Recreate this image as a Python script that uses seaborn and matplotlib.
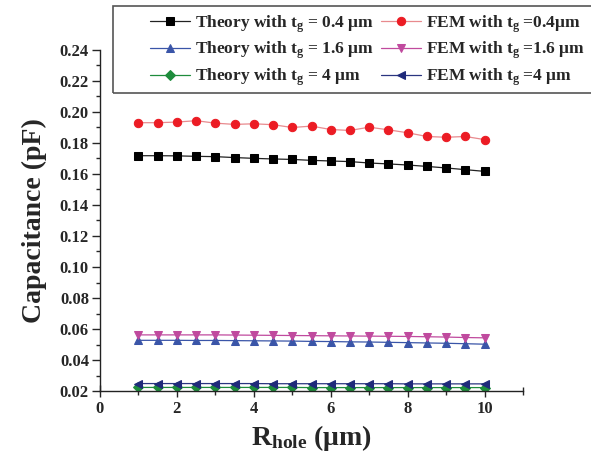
import numpy as np
import pandas as pd
import matplotlib
matplotlib.use("Agg")
import matplotlib.pyplot as plt
from matplotlib.patches import Rectangle
from matplotlib.ticker import MultipleLocator, FormatStrFormatter
import seaborn as sns

# ---- data ----
r_hole = [1, 1.5, 2, 2.5, 3, 3.5, 4, 4.5, 5, 5.5, 6, 6.5, 7, 7.5, 8, 8.5, 9, 9.5, 10]
theory_04 = [0.1718, 0.1718, 0.1717, 0.1714, 0.1712, 0.1706, 0.1701, 0.1697, 0.1694, 0.1688,
             0.1684, 0.1680, 0.1671, 0.1665, 0.1658, 0.1649, 0.1639, 0.1628, 0.1617]
fem_04 = [0.1931, 0.1931, 0.1935, 0.1944, 0.1928, 0.1920, 0.1924, 0.1918, 0.1900, 0.1909,
          0.1887, 0.1881, 0.1902, 0.1885, 0.1866, 0.1842, 0.1837, 0.1842, 0.1822]
theory_16 = [0.0527, 0.0527, 0.0527, 0.0526, 0.0526, 0.0525, 0.0524, 0.0523, 0.0522, 0.0520,
             0.0519, 0.0517, 0.0516, 0.0514, 0.0512, 0.0510, 0.0508, 0.0505, 0.0502]
fem_16 = [0.0562, 0.0562, 0.0562, 0.0562, 0.0562, 0.0561, 0.0560, 0.0559, 0.0558, 0.0557,
          0.0556, 0.0555, 0.0554, 0.0553, 0.0552, 0.0550, 0.0548, 0.0545, 0.0543]
theory_4 = [0.0223, 0.0223, 0.0223, 0.0223, 0.0223, 0.0223, 0.0223, 0.0223, 0.0223, 0.0222,
            0.0222, 0.0222, 0.0222, 0.0222, 0.0222, 0.0222, 0.0222, 0.0222, 0.0222]
fem_4 = [0.0248, 0.0248, 0.0248, 0.0248, 0.0248, 0.0248, 0.0248, 0.0247, 0.0247, 0.0247,
         0.0247, 0.0247, 0.0247, 0.0247, 0.0246, 0.0246, 0.0246, 0.0246, 0.0246]

labels = ["Theory with t$_\\mathrm{g}$ = 0.4 μm", "Theory with t$_\\mathrm{g}$ = 1.6 μm",
          "Theory with t$_\\mathrm{g}$ = 4 μm", "FEM with t$_\\mathrm{g}$ =0.4μm",
          "FEM with t$_\\mathrm{g}$ =1.6 μm", "FEM with t$_\\mathrm{g}$ =4 μm"]
series = [theory_04, theory_16, theory_4, fem_04, fem_16, fem_4]
markers = ["s", "^", "D", "o", "v", "<"]
mcolors = ["#000000", "#3a55a8", "#1e8c3c", "#ec1c24", "#c04a9e", "#1f2a7a"]
lcolors = ["#222222", "#3a55a8", "#1e8c3c", "#e88a8e", "#c04a9e", "#2a3580"]
msizes = [5.2, 5.5, 4.6, 6.0, 5.5, 5.5]

sns.set_style("ticks")
plt.rcParams["font.family"] = ["Liberation Serif", "DejaVu Serif"]
plt.rcParams["font.weight"] = "bold"
plt.rcParams["mathtext.fontset"] = "custom"
plt.rcParams["mathtext.rm"] = "Liberation Serif:bold"
plt.rcParams["mathtext.it"] = "Liberation Serif:bold"
plt.rcParams["mathtext.bf"] = "Liberation Serif:bold"

W, H = 591, 459
fig = plt.figure(figsize=(W / 100, H / 100), dpi=100)
ax = fig.add_axes([100 / W, 68 / H, 423 / W, 341 / H])

handles = []
for ys, lab, mk, mc, lc, ms in zip(series, labels, markers, mcolors, lcolors, msizes):
    df = pd.DataFrame({"x": r_hole, "y": ys})
    sns.lineplot(data=df, x="x", y="y", ax=ax, color=lc, linewidth=0.9,
                 marker=mk, markersize=ms, markerfacecolor=mc, markeredgecolor=mc,
                 label=lab, legend=False)
    handles.append(ax.lines[-1])

ax.set_xlim(0, 11)
ax.set_ylim(0.02, 0.24)
ax.xaxis.set_major_locator(MultipleLocator(2))
ax.xaxis.set_minor_locator(MultipleLocator(1))
ax.yaxis.set_major_locator(MultipleLocator(0.02))
ax.yaxis.set_minor_locator(MultipleLocator(0.01))
ax.yaxis.set_major_formatter(FormatStrFormatter("%.2f"))
ax.set_xticks([0, 2, 4, 6, 8, 10])

for s in ["top", "right"]:
    ax.spines[s].set_visible(False)
for s in ["left", "bottom"]:
    ax.spines[s].set_linewidth(1.0)
    ax.spines[s].set_color("#222222")

ax.tick_params(axis="x", which="major", direction="inout", length=9, width=1.0, labelsize=12, pad=3)
ax.tick_params(axis="x", which="minor", direction="inout", length=6, width=1.0)
ax.tick_params(axis="y", which="major", direction="out", length=6, width=1.0, labelsize=12, pad=2)
ax.tick_params(axis="y", which="minor", direction="out", length=3, width=1.0)
for t in ax.get_xticklabels() + ax.get_yticklabels():
    t.set_fontweight("bold")

ax.set_xlabel("R$_\\mathrm{hole}$ (μm)", fontsize=20, fontweight="bold", labelpad=4)
ax.set_ylabel("Capacitance (pF)", fontsize=20, fontweight="bold", labelpad=9)

# legend frame (extends past the right edge of the figure, as in the original)
fig.patches.append(Rectangle((113 / W, 1 - 93 / H), 500 / W, 87 / H,
                             transform=fig.transFigure, fill=False,
                             edgecolor="#555555", linewidth=1.2, zorder=5))

leg = fig.legend(handles=handles, labels=labels, ncol=2, loc="upper left",
                 bbox_to_anchor=(150 / W, 1 - 13 / H), fontsize=12.5,
                 frameon=False, handlelength=2.3, handletextpad=0.3,
                 columnspacing=0.4, labelspacing=0.3, borderpad=0, borderaxespad=0)
for t in leg.get_texts():
    t.set_fontweight("bold")

fig.savefig("out.png", dpi=100)
